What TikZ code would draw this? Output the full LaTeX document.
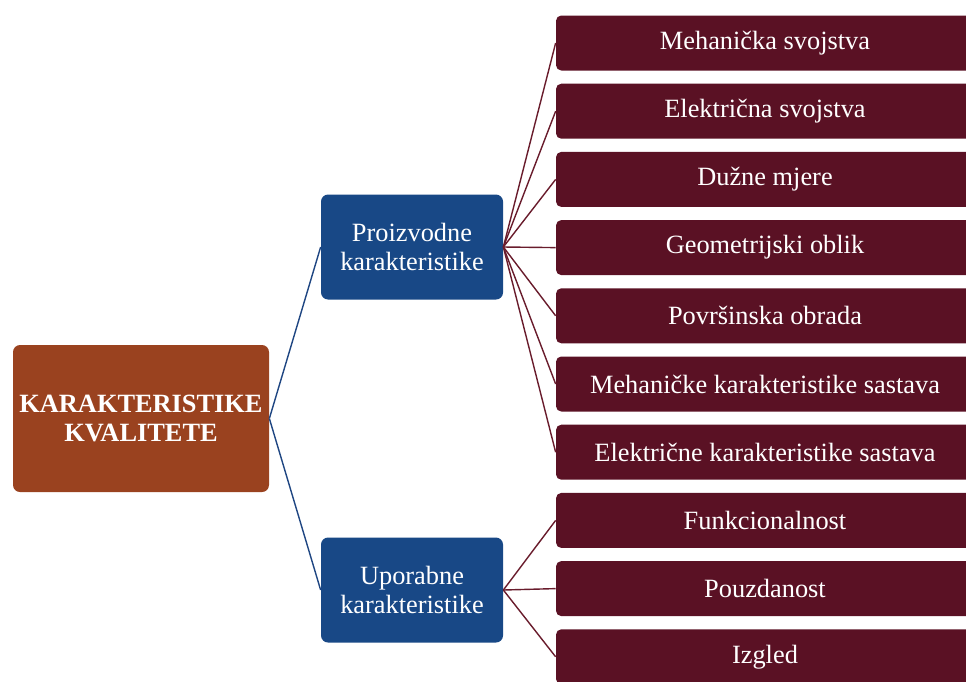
\documentclass[tikz,border=0pt]{standalone}
\usepackage{fontspec}
\setmainfont{Liberation Serif}
\usepackage{xcolor}
\definecolor{rust}{RGB}{154,66,31}
\definecolor{navy}{RGB}{24,72,134}
\definecolor{wine}{RGB}{90,17,36}
\definecolor{bluelink}{RGB}{31,70,130}
\definecolor{winelink}{RGB}{105,28,44}

\begin{document}
\begin{tikzpicture}[node distance=1.364cm,
    rootbox/.style={rectangle, rounded corners=4pt, fill=rust, text=white, minimum width=5.12cm, minimum height=2.94cm, align=center, font=\fontsize{15}{16.5}\selectfont\bfseries},
    midbox/.style={rectangle, rounded corners=4pt, fill=navy, text=white, minimum width=3.64cm, minimum height=2.1cm, align=center, font=\fontsize{15}{17}\selectfont},
    leafbox/.style={rectangle, rounded corners=3pt, fill=wine, text=white, minimum width=8.36cm, minimum height=1.1cm, font=\fontsize{15}{17}\selectfont},
    bluewire/.style={draw=bluelink, line width=0.8pt},
    winewire/.style={draw=winelink, line width=0.8pt}]
    \useasboundingbox (0,0) rectangle (19.32,-13.62);

    \node (kval) [rootbox] at (2.82,-8.37) {KARAKTERISTIKE\\KVALITETE};
    \node (proizv) [midbox] at (8.24,-4.94) {Proizvodne\\karakteristike};
    \node (upor) [midbox] at (8.24,-11.8) {Uporabne\\karakteristike};

    \node (meh) [leafbox] at (15.3,-0.86) {Mehanička svojstva};
    \node (elek) [leafbox, below of=meh] {Električna svojstva};
    \node (duz) [leafbox, below of=elek] {Dužne mjere};
    \node (geom) [leafbox, below of=duz] {Geometrijski oblik};
    \node (povr) [leafbox, below of=geom] {Površinska obrada};
    \node (mehsas) [leafbox, below of=povr] {Mehaničke karakteristike sastava};
    \node (eleksas) [leafbox, below of=mehsas] {Električne karakteristike sastava};
    \node (funk) [leafbox, below of=eleksas] {Funkcionalnost};
    \node (pouz) [leafbox, below of=funk] {Pouzdanost};
    \node (izg) [leafbox, below of=pouz] {Izgled};

    \draw[bluewire] (kval.east) -- (proizv.west);
    \draw[bluewire] (kval.east) -- (upor.west);

    \draw[winewire] (proizv.east) -- (meh.west);
    \draw[winewire] (proizv.east) -- (elek.west);
    \draw[winewire] (proizv.east) -- (duz.west);
    \draw[winewire] (proizv.east) -- (geom.west);
    \draw[winewire] (proizv.east) -- (povr.west);
    \draw[winewire] (proizv.east) -- (mehsas.west);
    \draw[winewire] (proizv.east) -- (eleksas.west);

    \draw[winewire] (upor.east) -- (funk.west);
    \draw[winewire] (upor.east) -- (pouz.west);
    \draw[winewire] (upor.east) -- (izg.west);
\end{tikzpicture}
\end{document}
